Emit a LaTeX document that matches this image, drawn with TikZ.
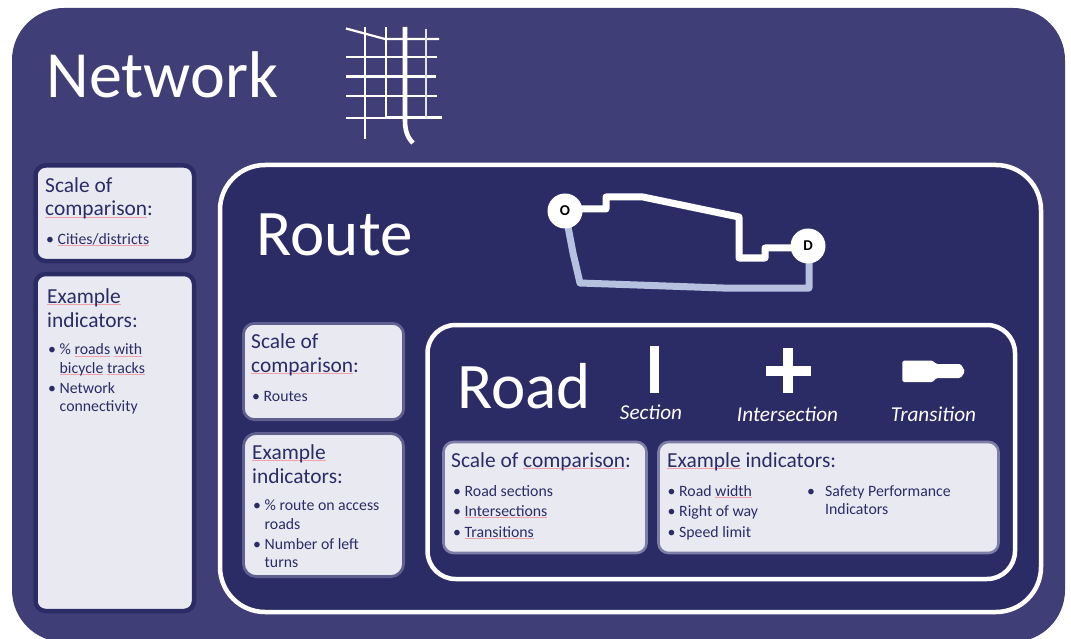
\documentclass[tikz,border=0pt]{standalone}
\usepackage{fontspec}
\setmainfont{Carlito}
\definecolor{netbg}{HTML}{403E76}
\definecolor{inbg}{HTML}{2B2C66}
\definecolor{card}{HTML}{E9EAF1}
\definecolor{cardedge}{HTML}{7C7EA8}
\definecolor{routeedge}{HTML}{5F6090}
\definecolor{altroute}{HTML}{B6C1E0}
\definecolor{sqred}{HTML}{F0A0A8}
\newsavebox{\sqbox}
\newcommand{\sq}[1]{\leavevmode\sbox{\sqbox}{#1}\rlap{\textcolor{sqred}{\rule[-1.6pt]{\wd\sqbox}{0.7pt}}}#1}
\newcommand{\bi}[1]{\makebox[11.5pt][l]{\textbullet}#1}
\newcommand{\bc}[1]{\hspace*{11.5pt}#1}
\pgfdeclarelayer{top}
\pgfsetlayers{main,top}
\tikzset{
  x=1pt,y=-1pt,
  panel/.style={rounded corners=#1,line join=round},
  cardA/.style={fill=card,draw=inbg,line width=4.5pt,rounded corners=10pt},
  cardR/.style={fill=card,draw=routeedge,line width=2.8pt,rounded corners=11pt},
  cardB/.style={fill=card,draw=cardedge,line width=2.6pt,rounded corners=10pt},
  giant/.style={anchor=base west,inner sep=0pt,text=white,font=\fontsize{#1}{#1}\selectfont},
  title/.style={anchor=base west,inner sep=0pt,text=inbg,align=left,font=\fontsize{21.4}{24}\selectfont},
  items/.style={anchor=base west,inner sep=0pt,text=inbg,align=left,font=\fontsize{15.8}{18.5}\selectfont},
  kind/.style={anchor=base,inner sep=0pt,text=white,font=\fontsize{21.2}{24}\selectfont\itshape},
  city/.style={draw=white,line cap=butt},
  stop/.style={circle,fill=white,minimum size=35pt,inner sep=0pt,text=black,font=\fontsize{15}{15}\selectfont\bfseries},
  wht/.style={fill=white,draw=none},
}
\begin{document}
\begin{tikzpicture}
\useasboundingbox (0,0) rectangle (1071,639);
\begin{scope}
\clip (0,0) rectangle (1071,639);
\fill[netbg,panel=52pt] (12,8) rectangle (1065,642);
\end{scope}
\node[giant=66] (nettitle) at (46.5,98) {Network};
% street grid
\coordinate (g1) at (346,28.5); \coordinate (g2) at (385,39); \coordinate (g3) at (439,39);
\draw[city,line width=2.2pt] (g1) -- (g2) -- (g3);
\draw[city,line width=2.6pt] (346,57) -- (437,57);
\draw[city,line width=2.6pt] (346,76.5) -- (436,76.5);
\draw[city,line width=2.6pt] (346,96) -- (437,96);
\draw[city,line width=1.4pt] (346,118) -- (386,118);
\draw[city,line width=3pt] (386,118) -- (442,118);
\draw[city,line width=1.4pt] (365,27) -- (365,139);
\draw[city,line width=1.4pt] (386,27) -- (386,118);
\draw[city,line width=1.8pt,draw=white!85!netbg] (426,29) -- (426,118);
\draw[city,line width=4.6pt] (405,27) -- (405,120) .. controls (405,130) and (407,137) .. (413,143);
% left cards
\draw[cardA] (35.5,165.5) rectangle (194,261);
\draw[cardA] (35.5,274) rectangle (194,611);
\node[title] (t1) at (45,216) {Scale of\\\sq{comparison}:};
\node[items] (i1) at (46,244.5) {\bi{\sq{Cities/districts}}};
\node[title] (t2) at (47,327) {\sq{Example}\\indicators:};
\node[items] (i2) at (48,411.5) {\bi{\% \sq{roads} \sq{with}}\\\bc{\sq{bicycle} \sq{tracks}}\\[1.2pt]\bi{Network}\\\bc{connectivity}};
% route panel
\draw[fill=inbg,draw=white,line width=4.5pt,panel=45pt] (220,165) rectangle (1041,612);
\node[giant=65] (routetitle) at (256.5,255) {Route};
\begin{pgfonlayer}{top}
\node[stop] (O) at (565,211) {O};
\node[stop] (D) at (808,246) {D};
\end{pgfonlayer}
\coordinate (r1) at (606,209); \coordinate (r2) at (606,197); \coordinate (r3) at (643,197);
\coordinate (r4) at (739,217); \coordinate (r5) at (739,258); \coordinate (r6) at (765,258); \coordinate (r7) at (765,248);
\coordinate (a1) at (573,253); \coordinate (a2) at (580,283); \coordinate (a3) at (723,288); \coordinate (a4) at (809,288);
\draw[altroute,line width=7pt,line join=round] (O.center) -- (a1) -- (a2) -- (a3) -- (a4) -- (a4 |- D);
\draw[white,line width=7pt,line join=round] (O.center |- r1) -- (r1) -- (r2) -- (r3) -- (r4) -- (r5) -- (r6) -- (r7) -- (r7 -| D);
% route cards
\draw[cardR] (243.4,323.4) rectangle (403.6,419.6);
\draw[cardR,rounded corners=13pt] (243.4,433.4) rectangle (403.6,576.6);
\node[title] (t3) at (251,372) {Scale of\\\sq{comparison}:};
\node[items] (i3) at (252,401) {\bi{Routes}};
\node[title] (t4) at (252,483) {\sq{Example}\\indicators:};
\node[items] (i4) at (253,567.5) {\bi{\% route on access}\\\bc{roads}\\[1.2pt]\bi{Number of left}\\\bc{turns}};
% road panel
\draw[fill=inbg,draw=white,line width=4.5pt,panel=28pt] (427.5,325) rectangle (1015,579);
\node[giant=65] (roadtitle) at (457,408.5) {Road};
\fill[wht] (650,346) rectangle (658.5,393);
\fill[wht] (783,348) rectangle (793,393);
\fill[wht] (766,366) rectangle (811,376);
\fill[wht,rounded corners=1.5pt] (902.3,360.7) -- (933,360.7) -- (936,364) -- (960.7,364) -- (965,371.5) -- (960.7,378) -- (936,378) -- (933,382) -- (902.3,382) -- cycle;
\node[kind] (k1) at (651,419) {Section};
\node[kind] (k2) at (787.5,421) {Intersection};
\node[kind] (k3) at (933.5,421) {Transition};
% road cards
\draw[cardB] (443.5,442) rectangle (646.5,553);
\draw[cardB] (658.5,442) rectangle (998.5,553);
\node[title] (t5) at (451,467) {Scale of \sq{comparison}:};
\node[items] (i5) at (453,537) {\bi{Road sections}\\[2pt]\bi{\sq{Intersections}}\\[2pt]\bi{\sq{Transitions}}};
\node[title] (t6) at (667,467) {\sq{Example} indicators:};
\node[items] (i6) at (667.5,537) {\bi{Road \sq{width}}\\[2pt]\bi{Right of way}\\[2pt]\bi{Speed limit}};
\node[items] (i7) at (807,514.5) {\makebox[18pt][l]{\textbullet}Safety Performance\\\hspace*{18pt}Indicators};
\end{tikzpicture}
\end{document}
